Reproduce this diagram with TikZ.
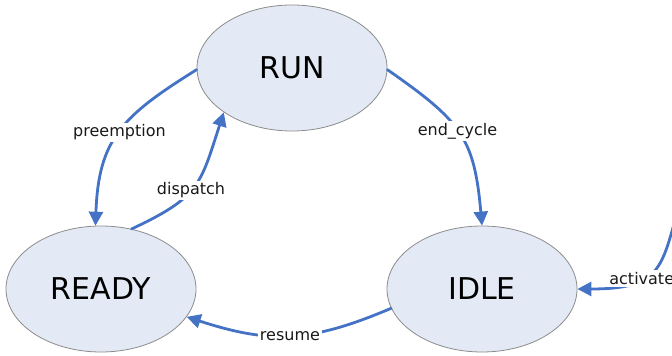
\documentclass[tikz,border=0pt]{standalone}
\usepackage{fontspec}
\setmainfont{DejaVu Sans}
\usetikzlibrary{arrows.meta,shapes.geometric}
\definecolor{flowblue}{HTML}{4472C4}
\definecolor{statefill}{HTML}{E3E9F5}
\definecolor{stateline}{HTML}{8C8C8C}
\begin{document}
\begin{tikzpicture}[x=0.5pt,y=0.5pt,line join=round,line cap=round,>={Triangle[length=7pt,width=7pt]},
	state/.style={ellipse,draw=stateline,line width=0.4pt,fill=statefill,inner sep=0pt,minimum width=95pt,minimum height=63pt,font=\fontsize{15}{18}\selectfont},
	flow/.style={->,draw=flowblue,line width=1.4pt},
	lbl/.style={fill=white,inner sep=1pt,text=black!90,font=\fontsize{8}{9.5}\selectfont}]
	\useasboundingbox (0,0) rectangle (672,356);
	\clip (0,0) rectangle (672,356);
	\path (692,190) coordinate (src);
	\foreach \n/\x/\y/\t in {run/292/288/RUN,ready/101/67/READY,idle/482/67/IDLE}
	\node[state] (\n) at (\x,\y) {\t};
	\draw[flow] (run.181) to[out=212,in=88,looseness=1.2] node[lbl,pos=0.5]{preemption} (ready.95);
	\draw[flow] (ready.63) to[out=25,in=252,looseness=1.3] node[lbl,pos=0.45]{dispatch} (run.213);
	\draw[flow] (run.-1) to[out=-35,in=95,looseness=1.25] node[lbl,pos=0.48]{end\_cycle} (idle.north);
	\draw[flow] (idle.192) to[out=203,in=-18,looseness=1.1] node[lbl,pos=0.5]{resume} (ready.342);
	\draw[flow] (src) to[out=250,in=0,looseness=1.5] node[lbl,pos=0.68]{activate} (idle.east);
\end{tikzpicture}
\end{document}
